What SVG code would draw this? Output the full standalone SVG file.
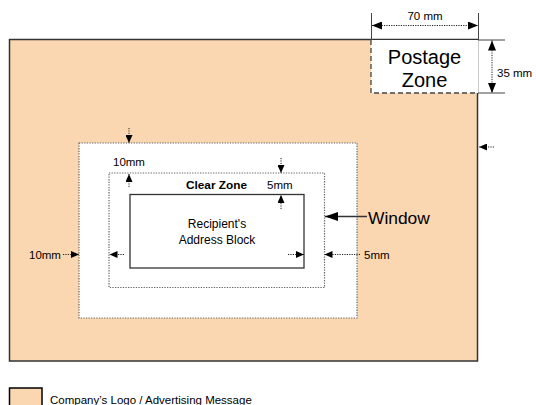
<svg xmlns="http://www.w3.org/2000/svg" width="536" height="405" viewBox="0 0 536 405">
<style>
text{font-family:"Liberation Sans",Arial,sans-serif;fill:#000}
.s{font-size:11.5px}
.peach{fill:#FAD7B0}
.dotrect{fill:#fff;stroke:#666;stroke-width:1.2;stroke-dasharray:1.3 1.3}
.dim{stroke:#222;stroke-width:1;stroke-dasharray:1.2 1.2;fill:none}
.ext{stroke:#444;stroke-width:1;fill:none}
</style>
<defs>
<marker id="ah" markerUnits="userSpaceOnUse" markerWidth="9" markerHeight="7" refX="8" refY="3.5" orient="auto-start-reverse"><path d="M0,0 L8,3.5 L0,7 z" fill="#000"/></marker>
<marker id="ahdim" markerUnits="userSpaceOnUse" markerWidth="11" markerHeight="8" refX="10" refY="4" orient="auto-start-reverse"><path d="M0,0 L10,4 L0,8 z" fill="#000"/></marker>
<marker id="ahbig" markerUnits="userSpaceOnUse" markerWidth="14" markerHeight="9" refX="13" refY="4.5" orient="auto"><path d="M0,0 L13,4.5 L0,9 z" fill="#000"/></marker>
</defs>
<g id="envelope">
<rect x="9.5" y="39.5" width="468" height="321.5" class="peach" stroke="#333" stroke-width="1.5"/>
</g>
<g id="postage-zone">
<rect x="371" y="40" width="107" height="53" fill="#fff"/>
<path d="M371,40 V93 H478" fill="none" stroke="#444" stroke-width="1.3" stroke-dasharray="5 3"/>
<text x="424.5" y="64" font-size="20" text-anchor="middle">Postage</text>
<text x="424.5" y="87" font-size="20" text-anchor="middle">Zone</text>
</g>
<g id="window-area">
<rect x="79" y="143" width="278" height="175" class="dotrect"/>
</g>
<g id="clear-zone">
<rect x="109" y="173" width="215.5" height="114.5" class="dotrect"/>
<text x="186" y="189" font-size="11.8" font-weight="bold">Clear Zone</text>
</g>
<g id="address-block">
<rect x="130" y="194.5" width="174" height="73.5" fill="#fff" stroke="#333" stroke-width="1.3"/>
<text x="217" y="228" font-size="12" text-anchor="middle">Recipient's</text>
<text x="217" y="244" font-size="12" text-anchor="middle">Address Block</text>
</g>
<g id="labels">
<text x="425" y="20" class="s" text-anchor="middle">70 mm</text>
<text x="497" y="77" class="s">35 mm</text>
<text x="113" y="165.5" class="s">10mm</text>
<text x="267" y="189" class="s">5mm</text>
<text x="29" y="259" class="s">10mm</text>
<text x="364" y="259" class="s">5mm</text>
<text x="368" y="224" font-size="17.4">Window</text>
</g>
<g id="connectors">
<path class="ext" d="M371.5,13 V40 M478.5,13 V40 M478,40 H505 M478,93 H505"/>
<line class="dim" x1="372" y1="25.5" x2="478" y2="25.5" marker-start="url(#ahdim)" marker-end="url(#ahdim)"/>
<line class="dim" x1="492" y1="40.5" x2="492" y2="93" marker-start="url(#ahdim)" marker-end="url(#ahdim)"/>
<line class="dim" x1="129" y1="128" x2="129" y2="143" marker-end="url(#ah)"/>
<line class="dim" x1="129" y1="187" x2="129" y2="174" marker-end="url(#ah)"/>
<line class="dim" x1="281" y1="158" x2="281" y2="173" marker-end="url(#ah)"/>
<line class="dim" x1="281" y1="209" x2="281" y2="195" marker-end="url(#ah)"/>
<line class="dim" x1="63" y1="254.5" x2="79" y2="254.5" marker-end="url(#ah)"/>
<line class="dim" x1="124" y1="254.5" x2="109.5" y2="254.5" marker-end="url(#ah)"/>
<line class="dim" x1="288" y1="254.5" x2="304" y2="254.5" marker-end="url(#ah)"/>
<line class="dim" x1="360" y1="254.5" x2="324.5" y2="254.5" marker-end="url(#ah)"/>
<line class="dim" x1="494" y1="147" x2="479" y2="147" marker-end="url(#ah)"/>
<line x1="367" y1="216.5" x2="325" y2="216.5" stroke="#333" stroke-width="1.5" marker-end="url(#ahbig)"/>
</g>
<g id="legend">
<rect x="9.5" y="388" width="32.5" height="22" class="peach" stroke="#000" stroke-width="1.5"/>
<text x="50" y="404" font-size="11.5">Company’s Logo / Advertising Message</text>
</g>
</svg>
